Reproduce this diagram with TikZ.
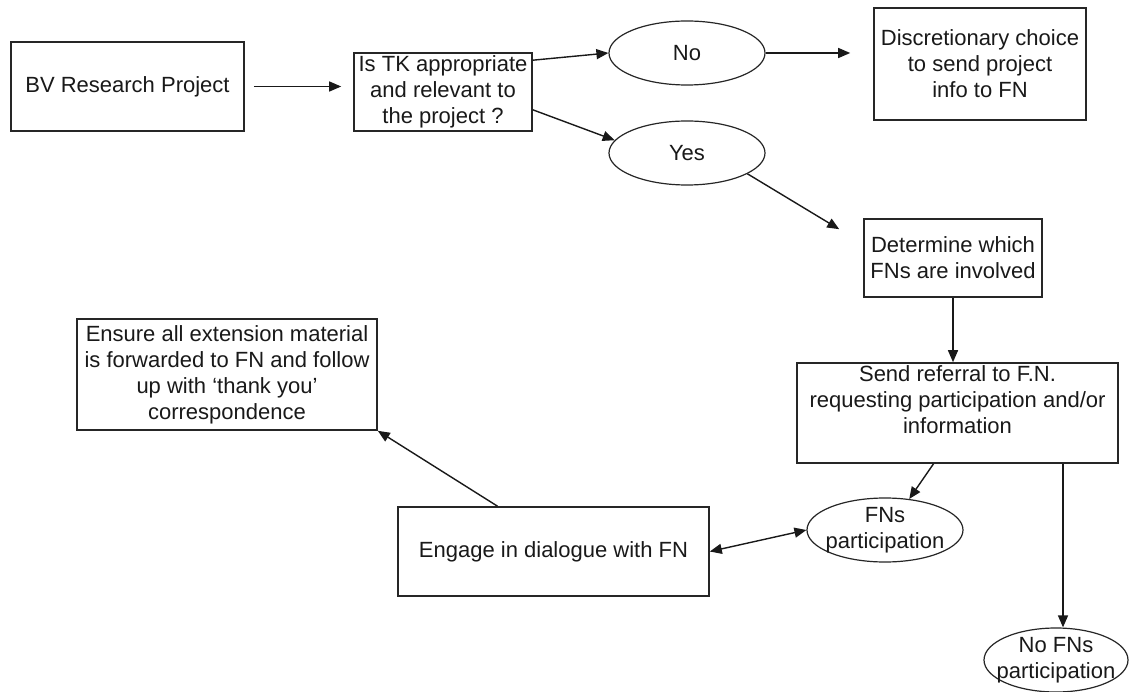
\documentclass[tikz,border=0pt]{standalone}
\usepackage{fontspec}
\setmainfont{Liberation Sans}
\usetikzlibrary{shapes.geometric,arrows.meta}
\begin{document}
\begin{tikzpicture}[x=1pt,y=-1pt,
  box/.style={draw=black!85,line width=1.6pt,rectangle,inner sep=0pt,align=center},
  ell/.style={draw=black!85,line width=1.2pt,ellipse,inner sep=0pt,minimum width=156pt,minimum height=64pt},
  txt/.style={align=center,inner sep=0pt},
  arr/.style={draw=black!90,line width=1.4pt,-{Triangle[length=12pt,width=10pt]}},
  darr/.style={draw=black!90,line width=1.4pt,{Triangle[length=12pt,width=10pt]}-{Triangle[length=12pt,width=10pt]}},
  every node/.style={font=\fontsize{22}{26}\selectfont, text=black!90}]
\useasboundingbox (0,0) rectangle (1132,692);
\fill[white] (0,0) rectangle (1132,692);

\node[box,minimum width=233pt,minimum height=89pt] (bv) at (127.5,86.5) {BV Research Project};
\node[box,minimum width=178pt,minimum height=78pt] (tk) at (443,92) {Is TK appropriate\\and relevant to\\the project ?};
\node[ell] (no) at (687,53) {};
\node[txt] (noT) at (no) {No};
\node[ell] (yes) at (687,153) {};
\node[txt] (yesT) at (yes) {Yes};
\node[box,minimum width=212pt,minimum height=112pt] (disc) at (980,64) {Discretionary choice\\to send project\\info to FN};
\node[box,minimum width=178pt,minimum height=78pt] (det) at (953,258) {Determine which\\FNs are involved};
\node[box,minimum width=321pt,minimum height=100pt] (send) at (957.5,413) {Send referral to F.N.\\requesting participation and/or\\information\\ };
\node[ell] (fns) at (885,530) {};
\node[txt] (fnsT) at (fns) {FNs\\participation};
\node[ell,minimum width=144pt] (nofns) at (1056,660) {};
\node[txt] (nofnsT) at (nofns) {No FNs\\participation};
\node[box,minimum width=311pt,minimum height=89pt] (eng) at (553.5,551.5) {Engage in dialogue with FN};
\node[box,minimum width=300pt,minimum height=111pt] (ens) at (227,374.5) {Ensure all extension material\\is forwarded to FN and follow\\up with `thank you'\\correspondence};

\coordinate (detin) at ([xshift=-24pt,yshift=-11pt]det.north west);

\draw[arr,shorten <=9pt,shorten >=12pt] (bv.east) -- (bv.east -| tk.west);
\draw[arr] ([yshift=-8pt]tk.north east) -- (no.west);
\draw[arr] ([yshift=22pt]tk.south east) -- (yes.170);
\draw[arr,shorten >=23pt] (no.east) -- (no.east -| disc.west);
\draw[arr] (yes.-19) -- (detin);
\draw[arr] (det.south) -- (det.south |- send.north);
\draw[arr] ([xshift=-24pt]send.south) -- (fns.52);
\draw[arr] ([xshift=7pt]nofns.north |- send.south) -- ([xshift=7pt]nofns.north);
\draw[darr] (eng.east) -- (fns.west);
\draw[arr] ([xshift=-56pt]eng.north) -- (ens.south east);
\end{tikzpicture}
\end{document}
